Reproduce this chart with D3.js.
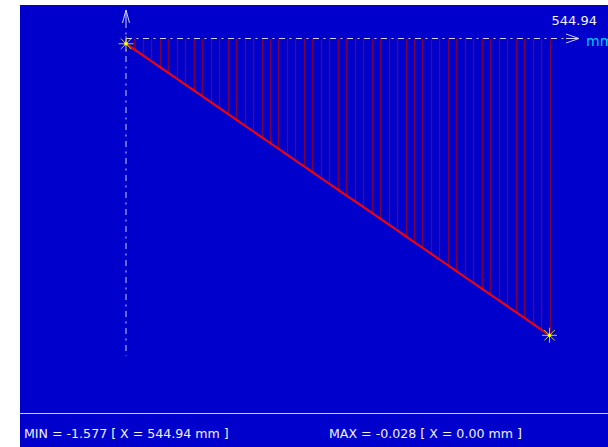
<!DOCTYPE html>
<html>
<head>
<meta charset="utf-8">
<script src="https://cdn.jsdelivr.net/npm/d3@7"></script>
<style>
  html, body { margin: 0; padding: 0; background: #ffffff; }
  svg { display: block; }
</style>
</head>
<body>
<svg id="chart" width="608" height="447"></svg>
<script>
// Measurement positions along the part (mm)
const positions = [
  0.00, 10.90, 21.80, 32.70, 43.60, 54.49, 65.39, 76.29, 87.19, 98.09,
  108.99, 119.89, 130.79, 141.68, 152.58, 163.48, 174.38, 185.28, 196.18, 207.08,
  217.98, 228.87, 239.77, 250.67, 261.57, 272.47, 283.37, 294.27, 305.17, 316.07,
  326.96, 337.86, 348.76, 359.66, 370.56, 381.46, 392.36, 403.26, 414.15, 425.05,
  435.95, 446.85, 457.75, 468.65, 479.55, 490.45, 501.34, 512.24, 523.14, 534.04,
  544.94
];

// Measured deviation at each position
const deviations = [
  -0.028, -0.059, -0.090, -0.121, -0.152, -0.183, -0.214, -0.245, -0.276, -0.307,
  -0.338, -0.369, -0.400, -0.431, -0.462, -0.493, -0.524, -0.555, -0.586, -0.617,
  -0.648, -0.679, -0.710, -0.741, -0.772, -0.803, -0.834, -0.864, -0.895, -0.926,
  -0.957, -0.988, -1.019, -1.050, -1.081, -1.112, -1.143, -1.174, -1.205, -1.236,
  -1.267, -1.298, -1.329, -1.360, -1.391, -1.422, -1.453, -1.484, -1.515, -1.546,
  -1.577
];

const axisUnit = "mm";
const minLabel = "MIN = -1.577 [ X = 544.94 mm ]";
const maxLabel = "MAX = -0.028 [ X = 0.00 mm ]";

const svg = d3.select("#chart");
const font = "'DejaVu Sans', Verdana, sans-serif";

// Panel background
svg.append("rect")
  .attr("x", 20).attr("y", 5)
  .attr("width", 588).attr("height", 442)
  .attr("fill", "#0000cc");

const x = d3.scaleLinear().domain([0, d3.max(positions)]).range([126, 549.5]);
const y = d3.scaleLinear().domain([0, -1.577]).range([38.5, 335.3]);

const data = positions.map((p, i) => ({ p, v: deviations[i] }));

// Hatching between zero line and the profile
svg.append("g")
  .selectAll("line")
  .data(data)
  .join("line")
  .attr("x1", d => Math.round(x(d.p)) + 0.5)
  .attr("x2", d => Math.round(x(d.p)) + 0.5)
  .attr("y1", y(0))
  .attr("y2", d => y(d.v))
  .attr("stroke", "#7a0040")
  .attr("stroke-width", 1.2);

// Axes (dash-dot)
const axisColor = "#d0d0ff";
const dash = "6,4.5,2,4.5";
svg.append("line")
  .attr("x1", x(0)).attr("x2", 566)
  .attr("y1", y(0)).attr("y2", y(0))
  .attr("stroke", axisColor).attr("stroke-width", 1)
  .attr("stroke-dasharray", dash);
svg.append("line")
  .attr("x1", x(0)).attr("x2", x(0))
  .attr("y1", 22).attr("y2", 356)
  .attr("stroke", axisColor).attr("stroke-width", 1)
  .attr("stroke-dasharray", dash);

// Arrow heads
const ax = x(0), ay = y(0);
svg.append("path")
  .attr("d", `M${ax - 3.5},23 L${ax},10 L${ax + 3.5},23 M${ax},10 L${ax},22`)
  .attr("fill", "none").attr("stroke", axisColor).attr("stroke-width", 1);
svg.append("path")
  .attr("d", `M566,${ay - 4.5} L579,${ay} L566,${ay + 4.5} M566,${ay} L579,${ay}`)
  .attr("fill", "none").attr("stroke", axisColor).attr("stroke-width", 1);

// Profile line
svg.append("path")
  .datum(data)
  .attr("d", d3.line().x(d => x(d.p)).y(d => y(d.v)))
  .attr("fill", "none")
  .attr("stroke", "#ff0000")
  .attr("stroke-width", 2);

// Star markers at the first and last points
function star(cx, cy) {
  const g = svg.append("g").attr("transform", `translate(${cx},${cy})`);
  const r = 7.5, rd = 5.3;
  const segs = [[-r, 0, r, 0], [0, -r, 0, r], [-rd, -rd, rd, rd], [-rd, rd, rd, -rd]];
  g.selectAll("line").data(segs).join("line")
    .attr("x1", s => s[0]).attr("y1", s => s[1])
    .attr("x2", s => s[2]).attr("y2", s => s[3])
    .attr("stroke", "#c8c840").attr("stroke-width", 1);
  g.append("circle").attr("r", 1.8).attr("fill", "#ffff00");
}
star(x(positions[0]), y(deviations[0]));
star(x(positions[positions.length - 1]), y(deviations[deviations.length - 1]));

// End-of-axis value and unit
svg.append("text")
  .attr("x", 597).attr("y", 25)
  .attr("text-anchor", "end")
  .attr("font-family", font).attr("font-size", 13)
  .attr("fill", "#f0f0ff")
  .text(d3.format(".2f")(d3.max(positions)));
svg.append("text")
  .attr("x", 586).attr("y", 46)
  .attr("font-family", font).attr("font-size", 14)
  .attr("fill", "#00c8ff")
  .text(axisUnit);

// Status bar
svg.append("line")
  .attr("x1", 20).attr("x2", 608)
  .attr("y1", 413.5).attr("y2", 413.5)
  .attr("stroke", "#c8c8ff").attr("stroke-width", 1);
svg.append("text")
  .attr("x", 24).attr("y", 438)
  .attr("font-family", font).attr("font-size", 12.6)
  .attr("fill", "#f0f0ff")
  .text(minLabel);
svg.append("text")
  .attr("x", 329).attr("y", 438)
  .attr("font-family", font).attr("font-size", 12.6)
  .attr("fill", "#f0f0ff")
  .text(maxLabel);
</script>
</body>
</html>
